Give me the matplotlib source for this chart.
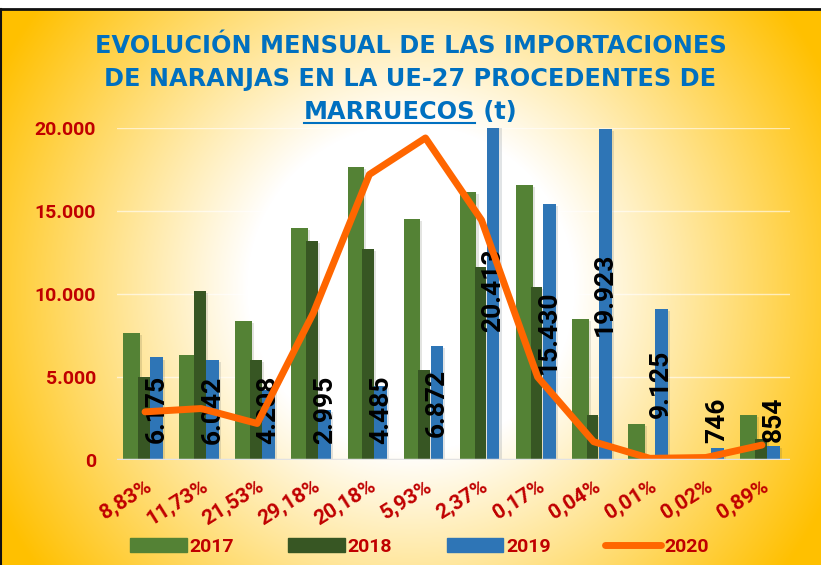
import numpy as np
import matplotlib
matplotlib.use("Agg")
import matplotlib.pyplot as plt
from matplotlib.lines import Line2D
from matplotlib.colors import to_rgb
import matplotlib.patheffects as pe

# data (t)
pct_labels = ["8,83%", "11,73%", "21,53%", "29,18%", "20,18%", "5,93%",
              "2,37%", "0,17%", "0,04%", "0,01%", "0,02%", "0,89%"]
v2017 = [7650, 6300, 8370, 14000, 17650, 14500, 16150, 16550, 8500, 2150, 150, 2700]
v2018 = [5000, 10200, 6000, 13200, 12700, 5400, 11600, 10400, 2700, 50, 300, 1250]
v2019 = [6175, 6042, 4208, 2995, 4485, 6872, 20413, 15430, 19923, 9125, 746, 854]
v2020 = [2900, 3100, 2200, 8850, 17200, 19400, 14450, 5000, 1100, 100, 150, 900]
series_names = ["2017", "2018", "2019", "2020"]

C17, C18, C19, C20 = "#548235", "#375623", "#2E75B6", "#FF6600"
RED = "#C00000"
BLUE = "#0070C0"
FONT = ["Roboto", "DejaVu Sans"]

W, H = 821, 565
fig = plt.figure(figsize=(W / 100, H / 100), dpi=100)

# radial white -> amber background, like the Excel chart area fill
bg = fig.add_axes([0, 0, 1, 1 - 10 / H], zorder=-10)
yy, xx = np.mgrid[0:H - 10, 0:W]
d = np.hypot(xx - W / 2, yy - (H - 10) / 2) / np.hypot(W / 2, (H - 10) / 2)
t = np.clip((d - 0.33) * 1.63, 0, 1)[..., None]
img = (1 - t) * np.ones(3) + t * np.array(to_rgb("#FFC000"))
bg.imshow(img, aspect="auto", interpolation="bilinear")
bg.axis("off")
fig.add_artist(Line2D([0, 1], [1 - 9 / H] * 2, color="#111", lw=2))
fig.add_artist(Line2D([0.6 / W] * 2, [0, 1 - 9 / H], color="#111", lw=1.5))

ax = fig.add_axes([117 / W, 1 - 460 / H, 673 / W, 332 / H])
ax.set_facecolor("none")
x = np.arange(len(pct_labels))

shadow = [pe.SimplePatchShadow(offset=(1.5, -1.5), alpha=0.12), pe.Normal()]
b17 = ax.bar(x - 0.24, v2017, width=0.30, color=C17, zorder=2)
b18 = ax.bar(x - 0.02, v2018, width=0.21, color=C18, zorder=3)
b19 = ax.bar(x + 0.205, v2019, width=0.23, color=C19, zorder=4)
for bars in (b17, b18, b19):
    for b in bars:
        b.set_path_effects(shadow)

lkw = dict(rotation=90, ha="center", fontsize=19, fontweight="bold",
           family=FONT, color="black", zorder=5)
for xi, v in zip(x, v2019):
    lab = f"{v:,}".replace(",", ".")
    if v >= 2000:
        ax.text(xi + 0.205, max(v / 2, 3000), lab, va="center", **lkw)
    else:
        ax.text(xi + 0.205, v + 250, lab, va="bottom", **lkw)

ax.plot(x, v2020, color=C20, lw=5, solid_capstyle="round",
        solid_joinstyle="round", zorder=6)

ax.set_xlim(-0.5, len(x) - 0.5)
ax.set_ylim(0, 20000)
ax.set_yticks([0, 5000, 10000, 15000, 20000])
ax.set_yticklabels(["0", "5.000", "10.000", "15.000", "20.000"])
ax.set_xticks(x)
ax.set_xticklabels(pct_labels, rotation=32, ha="right", rotation_mode="anchor")
ax.tick_params(axis="both", length=0, labelcolor=RED, labelsize=14)
ax.tick_params(axis="x", labelsize=15, pad=12)
ax.tick_params(axis="y", pad=15)
for lbl in ax.get_xticklabels() + ax.get_yticklabels():
    lbl.set_fontweight("bold")
    lbl.set_family(FONT)
for s in ax.spines.values():
    s.set_visible(False)
for gy in [5000, 10000, 15000, 20000]:
    ax.axhline(gy, color="white", lw=1, alpha=0.6, zorder=1)
ax.axhline(0, color="#E2E2E2", lw=2.5, zorder=7)

# title
tkw = dict(color=BLUE, fontsize=17.3, fontweight="bold", family="DejaVu Sans",
           ha="center", va="center")
fig.text(0.5, 1 - 46 / H, "EVOLUCIÓN MENSUAL DE LAS IMPORTACIONES", **tkw)
fig.text(0.5, 1 - 79 / H, "DE NARANJAS EN LA UE-27 PROCEDENTES DE", **tkw)
fig.canvas.draw()
r = fig.canvas.get_renderer()
t1 = fig.text(0, 1 - 112 / H, "MARRUECOS", **{**tkw, "ha": "left"})
t2 = fig.text(0, 1 - 112 / H, " (t)", **{**tkw, "ha": "left"})
w1 = t1.get_window_extent(r).width / W
w2 = t2.get_window_extent(r).width / W
x0 = 0.5 - (w1 + w2) / 2
t1.set_x(x0)
t2.set_x(x0 + w1)
fig.add_artist(Line2D([x0, x0 + w1], [1 - 123 / H] * 2, color=BLUE, lw=1.5))

handles = [plt.Rectangle((0, 0), 1, 1, color=C17),
           plt.Rectangle((0, 0), 1, 1, color=C18),
           plt.Rectangle((0, 0), 1, 1, color=C19),
           Line2D([], [], color=C20, lw=5, solid_capstyle="round")]
leg = fig.legend(handles, series_names, loc="center", bbox_to_anchor=(0.511, 1 - 547 / H),
                 ncol=4, frameon=False, handlelength=2.9, handleheight=0.75,
                 columnspacing=2.8, handletextpad=0.15,
                 prop={"family": FONT, "weight": "bold", "size": 14})
for txt in leg.get_texts():
    txt.set_color(RED)

fig.savefig("out.png", dpi=100)
